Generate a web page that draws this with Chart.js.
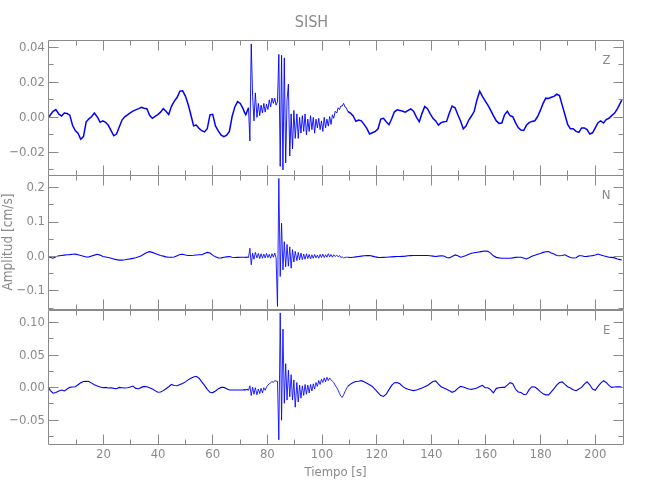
<!DOCTYPE html>
<html>
<head>
<meta charset="utf-8">
<script src="https://cdn.jsdelivr.net/npm/chart.js@4.4.1/dist/chart.umd.min.js"></script>
<style>
html, body { margin: 0; padding: 0; background: #ffffff; }
#wrap { position: relative; width: 650px; height: 500px; overflow: hidden; background: #ffffff; }
#wrap canvas { position: absolute; left: 0; }
</style>
</head>
<body>
<div id="wrap">
  <canvas id="cZ" width="650" height="176" style="top:0px"></canvas>
  <canvas id="cN" width="650" height="145" style="top:170px"></canvas>
  <canvas id="cE" width="650" height="195" style="top:305px"></canvas>
</div>
<script>
// ---- sample times [s] ----
const time = [0,0.6,1.6,2.6,3.7,4.7,5.7,6.7,7.7,8.7,9.7,10.7,11.7,12.7,13.7,14.7,15.7,16.7,
17.8,18.8,19.8,20.8,21.8,22.8,23.8,24.8,25.8,26.8,27.8,28.8,29.8,30.8,31.8,
32.9,33.9,34.9,35.9,36.9,37.9,38.9,39.9,40.9,41.9,42.9,43.9,44.9,45.9,
47,48,49,50,51,52,53,54,55,56,57,58,59,60,61,
62.1,63.1,64.1,65.1,66.1,67.1,68.1,69.1,70.1,71.1,
71.6,72.1,72.6,73.1,73.6,74.1,74.6,75.1,75.6,
76.2,76.7,77.2,77.7,78.2,78.7,79.2,79.7,80.2,80.7,81.2,81.7,82.2,82.7,83.2,83.7,84.2,84.7,85.2,85.7,86.2,86.7,87.2,87.7,88.2,88.7,89.2,89.7,90.2,
90.8,91.3,91.8,92.3,92.8,93.3,93.8,94.3,94.8,95.3,95.8,96.3,96.8,97.3,97.8,98.3,98.8,99.3,99.8,100.3,100.8,101.3,101.8,102.3,102.8,103.3,103.8,104.3,104.8,
105.4,105.9,106.4,106.9,107.4,107.9,108.4,108.9,109.4,
110.4,111.4,112.4,113.4,114.4,115.4,116.4,117.4,118.4,
119.5,120.5,121.5,122.5,123.5,124.5,125.5,126.5,127.5,128.5,129.5,130.5,131.5,132.5,133.5,
134.6,135.6,136.6,137.6,138.6,139.6,140.6,141.6,142.6,143.6,144.6,145.6,146.6,147.6,
148.7,149.7,150.7,151.7,152.7,153.7,154.7,155.7,156.7,157.7,158.7,159.7,160.7,161.7,162.7,
163.8,164.8,165.8,166.8,167.8,168.8,169.8,170.8,171.8,172.8,173.8,174.8,175.8,176.8,
177.9,178.9,179.9,180.9,181.9,182.9,183.9,184.9,185.9,186.9,187.9,188.9,189.9,190.9,191.9,
193,194,195,196,197,198,199,200,201,202,203,204,205,206,
207.1,208.1,209.1,209.7];

// ---- Z component [cm/s] ----
const ampZ = [0,0.0015,0.0035,0.0045,0.0018,0.0008,0.0025,0.0022,0.0013,-0.0045,
-0.0075,-0.009,-0.0125,-0.011,-0.0025,-0.0008,0.0005,0.0025,0.0002,-0.0028,
-0.002,-0.0028,-0.0045,-0.0075,-0.0105,-0.0095,-0.0055,-0.0015,0.0003,0.0014,
0.0026,0.0036,0.0043,0.005,0.0058,0.0052,0.005,0.0012,-0.0005,0.0006,
0.0016,0.003,0.005,0.0035,0.0017,0.0063,0.0092,0.0115,0.015,0.0152,
0.0122,0.0075,0.0015,-0.0048,-0.0044,-0.0063,-0.0076,-0.0083,-0.0065,0.0015,
0.0018,-0.0049,-0.0078,-0.0102,-0.011,-0.0102,-0.008,0.0005,0.006,0.009,
0.008,0.005,
0.003,0.0015,0.0035,0.0055,-0.0135,0.042,0.012,-0.002,0.014,
0,0.008,0.001,0.007,0.0025,0.008,0.003,0.0075,0.0045,0.01,0.006,0.011,0.008,0.011,0.007,0.009,0.036,-0.028,0.0355,-0.03,0.034,-0.026,0.01,0.019,-0.022,0.002,-0.018,0.004,-0.012,
0.002,-0.012,0,-0.009,0.001,-0.008,0.002,-0.01,-0.001,-0.008,0.001,-0.007,0,-0.009,-0.001,-0.006,-0.0005,-0.007,-0.002,-0.008,0,-0.006,-0.001,-0.005,0.0005,-0.004,0.0015,-0.0005,0.0035,
0.0025,0.0055,0.0045,0.0065,0.0065,0.008,0.006,0.0055,0.0035,
0.0025,0.0008,-0.0022,-0.0015,-0.002,-0.004,-0.0063,-0.0095,-0.0088,
-0.008,-0.0065,-0.001,-0.0005,-0.0025,-0.0042,-0.0008,0.0032,0.0043,0.004,0.0035,0.003,0.004,0.0048,0.0035,
0,-0.0025,0.0023,0.0062,0.005,0.002,-0.0005,-0.002,-0.0044,-0.003,-0.0025,-0.0023,0.0025,0.0065,
0.0055,0.0015,-0.002,-0.0065,-0.005,-0.0015,0.0008,0.0035,0.01,0.015,0.012,0.0095,0.007,0.0042,0.001,
-0.002,-0.0034,-0.0032,0.0015,0.0035,0.001,0.0004,-0.003,-0.0058,-0.0072,-0.0075,-0.0045,-0.003,-0.0023,
-0.0019,0.0005,0.004,0.008,0.011,0.0108,0.0115,0.012,0.0133,0.0125,0.007,0.0015,-0.004,-0.0065,-0.0065,
-0.008,-0.0085,-0.006,-0.006,-0.007,-0.0095,-0.0088,-0.006,-0.003,-0.002,-0.0032,-0.0012,-0.0005,0.001,
0.0025,0.005,0.008,0.0099];

// ---- N component [cm/s] ----
const ampN = [0,-0.003,-0.005,-0.001,0.002,0.003,0.004,0.005,0.0055,0.0065,
0.007,0.005,0.003,0.001,-0.0015,-0.001,0.0015,0.004,0.0065,0.004,
0,-0.0015,-0.003,-0.005,-0.007,-0.009,-0.0105,-0.0105,-0.0095,-0.008,
-0.007,-0.0055,-0.0035,-0.001,0.0025,0.007,0.0115,0.014,0.012,0.009,
0.006,0.003,0.001,-0.001,-0.002,-0.002,-0.0015,0.0025,0.006,0.0065,
0.0045,0.003,0.003,0.0035,0.0045,0.005,0.005,0.0085,0.012,0.01,
0.004,-0.001,-0.0045,-0.004,-0.002,-0.001,0,-0.002,-0.003,-0.0025,
-0.002,-0.002,
-0.002,-0.0025,-0.0015,-0.003,0.024,-0.024,0.01,-0.008,0.012,
-0.004,0.009,-0.006,0.008,-0.005,0.007,-0.004,0.009,-0.003,0.006,-0.005,0.008,-0.002,0.01,-0.004,-0.145,0.227,-0.058,0.097,-0.039,0.043,-0.03,0.035,-0.028,0.028,-0.034,0.02,-0.016,0.015,
-0.012,0.012,-0.01,0.01,-0.009,0.007,-0.008,0.008,-0.006,0.006,-0.007,0.005,-0.005,0.006,-0.004,0.004,-0.005,0.006,-0.003,0.007,-0.003,0.005,-0.002,0.008,-0.001,0.006,-0.002,0.005,0,
0.004,-0.001,0.003,-0.003,-0.001,-0.004,-0.003,-0.002,-0.002,
-0.003,-0.002,-0.001,0,0.001,0.002,0.0025,0.003,0.001,
-0.001,-0.0025,-0.003,-0.0025,-0.002,-0.0015,-0.001,-0.0005,0,0,0.0005,0.001,0.002,0.0025,0.003,
0.003,0.003,0.003,0.003,0.003,0.002,0.001,0,0.001,0.002,0.0015,-0.003,-0.004,0,
0.0045,0.002,-0.002,0,0.003,0.0065,0.0095,0.011,0.0125,0.0135,0.015,0.016,0.015,0.01,0.002,
-0.0025,-0.004,-0.005,-0.005,-0.005,-0.005,-0.004,-0.0025,-0.002,-0.002,-0.0045,-0.007,-0.0035,0.0005,
0.0035,0.0065,0.009,0.012,0.014,0.0145,0.0105,0.007,0.003,0.002,0.003,0.005,0.001,-0.003,-0.0045,
-0.0035,0.002,0.002,0,0.0005,0.0015,0.0025,0.0045,0.007,0.0045,0.002,0,-0.002,-0.0025,
-0.004,-0.007,-0.009,-0.01];

// ---- E component [cm/s] ----
const ampE = [0,-0.0045,-0.0085,-0.0075,-0.005,-0.0035,-0.005,-0.002,0.0005,0.001,
0.0015,0.0045,0.0075,0.0095,0.01,0.0095,0.007,0.0045,0.0025,0.001,
0,0.0005,-0.0005,0,-0.001,-0.0015,0.0005,0,-0.0005,0,
0.001,0.0025,-0.001,-0.0015,0.0005,0.002,0.0015,0,-0.002,-0.0045,
-0.007,-0.0065,-0.0045,-0.0015,0.0015,0.005,0.0035,0.003,0.005,0.0065,
0.009,0.012,0.0145,0.0165,0.0175,0.0145,0.009,0.0035,-0.0025,-0.007,
-0.0075,-0.005,-0.0015,0.0005,0.0005,-0.0015,-0.0035,-0.0035,-0.0035,-0.0035,
-0.0035,-0.0035,
-0.003,-0.0035,-0.0025,-0.004,0.003,-0.012,0.001,-0.01,0,
-0.011,-0.002,-0.009,-0.001,-0.008,0,-0.004,0.001,0.004,0.006,0.0075,0.0095,0.008,0.011,0.01,0.01,-0.08,0.115,-0.05,0.09,-0.024,0.037,-0.019,0.027,-0.014,0.02,-0.019,0.012,-0.03,
0.008,-0.022,0.004,-0.016,0.003,-0.012,0.005,-0.01,0.004,-0.008,0.005,-0.005,0.006,-0.002,0.008,0.002,0.011,0.005,0.013,0.008,0.015,0.009,0.016,0.011,0.015,0.012,0.01,0.008,0.004,
0,-0.004,-0.009,-0.013,-0.015,-0.011,-0.006,-0.002,0.002,
0.0055,0.008,0.0095,0.01,0.0108,0.009,0.0067,0.0045,0.002,
-0.003,-0.0075,-0.012,-0.0135,-0.01,-0.003,0.0035,0.0077,0.008,0.006,0.002,-0.001,-0.0025,-0.0035,-0.0045,
-0.0035,-0.002,-0.0005,0.0015,0.0035,0.0065,0.0095,0.0105,0.0055,0.0015,-0.0005,-0.0025,-0.0045,-0.007,
-0.005,-0.001,0.002,0.001,-0.0005,-0.002,-0.0025,-0.0015,-0.0005,0.002,0.0035,0,0,-0.003,-0.008,
-0.001,0,0.0005,0.0005,0.004,0.0077,0.006,-0.002,-0.0065,-0.0075,-0.0105,-0.01,-0.003,0.0015,
0.001,-0.002,-0.006,-0.0095,-0.011,-0.011,-0.0065,-0.0015,0.004,0.008,0.009,0.005,0.0015,-0.0005,-0.003,
-0.0046,-0.002,0.0005,0.0055,0.0092,0.0045,-0.002,-0.004,0.002,0.007,0.0108,0.008,0.0035,0.0005,
0.001,0.0015,0.0015,0.0005];

// ---- labels and ticks ----
const stationName = 'SISH';
const components = ['Z', 'N', 'E'];
const xTitle = 'Tiempo [s]';
const yTitle = 'Amplitud [cm/s]';
const xTicks = [20, 40, 60, 80, 100, 120, 140, 160, 180, 200];
const xTickLabels = ['20', '40', '60', '80', '100', '120', '140', '160', '180', '200'];
const xMinorTicks = [10, 30, 50, 70, 90, 110, 130, 150, 170, 190];
const zTicks = [-0.02, 0, 0.02, 0.04];
const zTickLabels = ['\u22120.02', '0.00', '0.02', '0.04'];
const zMinorTicks = [-0.03, -0.01, 0.01, 0.03];
const nTicks = [-0.1, 0, 0.1, 0.2];
const nTickLabels = ['\u22120.1', '0.0', '0.1', '0.2'];
const nMinorTicks = [-0.15, -0.05, 0.05, 0.15];
const eTicks = [-0.05, 0, 0.05, 0.10];
const eTickLabels = ['\u22120.05', '0.00', '0.05', '0.10'];
const eMinorTicks = [-0.075, -0.025, 0.025, 0.075];
// time window of the strong-motion burst (drawn with a thinner pen)
const burstWindow = [73, 110];

// ---- style ----
const FONT = "'Liberation Sans Narrow', 'DejaVu Sans Condensed', 'Liberation Sans', sans-serif";
const TEXT_GRAY = '#8a8a8a';
const AXIS_GRAY = '#8a8a8a';
const TRACE_BLUE = '#0000ff';
const X_MIN = -0.28, X_MAX = 210.15;

Chart.defaults.font.family = FONT;
Chart.defaults.color = TEXT_GRAY;

const frameTicks = {
  id: 'frameTicks',
  afterDatasetsDraw(chart, args, o) {
    const { ctx, chartArea: a } = chart;
    const xs = chart.scales.x, ys = chart.scales.y;
    const L = Math.floor(a.left) + 0.5, R = Math.floor(a.right) + 0.5;
    const T = Math.floor(a.top) + 0.5, B = Math.floor(a.bottom) + 0.5;
    ctx.save();
    ctx.strokeStyle = AXIS_GRAY;
    ctx.lineWidth = 1;
    ctx.beginPath();
    ctx.rect(L, T, R - L, B - T);
    const yTick = (v, len) => {
      const p = Math.floor(ys.getPixelForValue(v)) + 0.5;
      ctx.moveTo(L, p); ctx.lineTo(L + len, p);
      ctx.moveTo(R, p); ctx.lineTo(R - len, p);
    };
    const xTick = (v, len) => {
      const p = Math.floor(xs.getPixelForValue(v)) + 0.5;
      ctx.moveTo(p, T); ctx.lineTo(p, T + len);
      ctx.moveTo(p, B); ctx.lineTo(p, B - len);
    };
    o.yMajor.forEach(v => yTick(v, 10));
    o.yMinor.forEach(v => yTick(v, 5));
    xTicks.forEach(v => xTick(v, 10));
    xMinorTicks.forEach(v => xTick(v, 5));
    ctx.stroke();
    ctx.fillStyle = TEXT_GRAY;
    ctx.font = '13px ' + FONT;
    ctx.textAlign = 'right';
    ctx.textBaseline = 'top';
    ctx.fillText(o.label, R - 13, T + 14);
    ctx.restore();
  }
};

function makePanel(id, values, p) {
  return new Chart(document.getElementById(id), {
    type: 'line',
    data: {
      datasets: [{
        data: time.map((t, i) => ({ x: t, y: values[i] })),
        borderColor: TRACE_BLUE,
        borderWidth: p.lineWidth,
        pointRadius: 0,
        tension: 0,
        fill: false,
        segment: {
          borderWidth: c => (c.p0.parsed.x >= burstWindow[0] && c.p1.parsed.x <= burstWindow[1]) ? p.burstWidth : p.lineWidth
        }
      }]
    },
    options: {
      responsive: false,
      animation: false,
      devicePixelRatio: 1,
      layout: { padding: p.padding },
      plugins: {
        legend: { display: false },
        tooltip: { enabled: false },
        title: p.title || { display: false },
        frameTicks: { yMajor: p.yTicks, yMinor: p.yMinor, label: p.label }
      },
      scales: {
        x: {
          type: 'linear',
          min: X_MIN,
          max: X_MAX,
          display: p.showX,
          grid: { display: false, drawTicks: false },
          border: { display: false },
          afterBuildTicks: s => { s.ticks = xTicks.map(v => ({ value: v })); },
          afterFit: s => { if (p.showX) { s.height = 45; } s.paddingLeft = 0; s.paddingRight = 0; },
          ticks: {
            autoSkip: false, maxRotation: 0, minRotation: 0, padding: 3,
            font: { size: 13 }, color: TEXT_GRAY,
            callback: (v, i) => xTickLabels[i]
          },
          title: {
            display: p.showX, text: xTitle, color: TEXT_GRAY,
            font: { size: 13 }, padding: { top: 0, bottom: 8.5 }
          }
        },
        y: {
          type: 'linear',
          min: p.yMin,
          max: p.yMax,
          grid: { display: false, drawTicks: false },
          border: { display: false },
          afterBuildTicks: s => { s.ticks = p.yTicks.map(v => ({ value: v })); },
          afterFit: s => { s.width = 48; s.paddingTop = 0; s.paddingBottom = 0; },
          ticks: {
            autoSkip: false, padding: 3,
            font: { size: 13 }, color: TEXT_GRAY,
            callback: (v, i) => p.yLabels[i]
          },
          title: {
            display: !!p.yTitle, text: p.yTitle || '', color: TEXT_GRAY,
            font: { size: 13.5 }, padding: { top: 0.5, bottom: 0 }
          }
        }
      }
    },
    plugins: [frameTicks]
  });
}

makePanel('cZ', ampZ, {
  lineWidth: 1.5, burstWidth: 0.9,
  padding: { left: 0, right: 27, top: 0, bottom: 1 },
  title: {
    display: true, text: stationName, color: TEXT_GRAY,
    font: { size: 16, weight: 'normal' }, padding: { top: 12.9, bottom: 7.9 }
  },
  showX: false,
  yMin: -0.03291, yMax: 0.04423,
  yTicks: zTicks, yLabels: zTickLabels, yMinor: zMinorTicks,
  label: components[0]
});

makePanel('cN', ampN, {
  lineWidth: 1.1, burstWidth: 0.85,
  padding: { left: 0, right: 27, top: 5, bottom: 6 },
  showX: false,
  yMin: -0.1526, yMax: 0.2369,
  yTicks: nTicks, yLabels: nTickLabels, yMinor: nMinorTicks,
  yTitle: yTitle,
  label: components[1]
});

makePanel('cE', ampE, {
  lineWidth: 1.1, burstWidth: 0.85,
  padding: { left: 0, right: 27, top: 5, bottom: 11 },
  showX: true,
  yMin: -0.0865, yMax: 0.1194,
  yTicks: eTicks, yLabels: eTickLabels, yMinor: eMinorTicks,
  label: components[2]
});
</script>
</body>
</html>
